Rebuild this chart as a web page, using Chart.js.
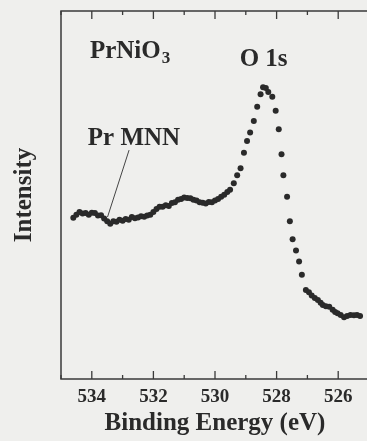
<!DOCTYPE html>
<html>
<head>
<meta charset="utf-8">
<script src="https://cdn.jsdelivr.net/npm/chart.js@4/dist/chart.umd.min.js"></script>
<style>
    html, body { margin: 0; padding: 0; background: #efefed; overflow: hidden; }
    #wrap { width: 376px; height: 441px; position: relative; }
</style>
</head>
<body>
<div id="wrap"><canvas id="xpsChart"></canvas></div>
<script>
// Binding energy (eV) and intensity (arb. units)
const energies = [
    534.6, 534.5, 534.4, 534.3, 534.2, 534.1, 534.0, 533.9, 533.8, 533.7,
    533.6, 533.5, 533.4, 533.3, 533.2, 533.1, 533.0, 532.9, 532.8, 532.7,
    532.6, 532.5, 532.4, 532.3, 532.2, 532.1, 532.0, 531.9, 531.8, 531.7,
    531.6, 531.5, 531.4, 531.3, 531.2, 531.1, 531.0, 530.9, 530.8, 530.7,
    530.6, 530.5, 530.4, 530.3, 530.2, 530.1, 530.0, 529.9, 529.8, 529.7,
    529.6,
    529.51, 529.39, 529.28, 529.17, 529.06, 528.96, 528.86, 528.74, 528.63, 528.52,
    528.44, 528.35, 528.27, 528.14, 528.03, 527.93, 527.84, 527.78, 527.66, 527.57,
    527.48, 527.37, 527.27, 527.18, 527.05, 526.95, 526.86, 526.76, 526.66, 526.57,
    526.50, 526.40, 526.29, 526.18, 526.10, 526.02, 525.92, 525.81, 525.71, 525.60,
    525.49, 525.39, 525.29
];
const intensities = [
    43.8, 44.6, 45.4, 45.0, 45.1, 44.6, 45.2, 45.1, 44.4, 44.5,
    43.6, 42.9, 42.2, 42.9, 42.7, 43.3, 43.0, 43.5, 43.3, 44.0,
    43.7, 43.9, 44.2, 44.1, 44.4, 44.6, 45.4, 46.2, 46.8, 46.8,
    47.2, 47.0, 47.8, 48.0, 48.7, 48.9, 49.3, 49.2, 49.1, 48.7,
    48.5, 48.0, 47.9, 47.7, 48.1, 48.0, 48.5, 48.9, 49.5, 50.1,
    50.8,
    51.4, 53.2, 55.4, 57.3, 61.5, 64.7, 67.0, 70.1, 74.0, 77.4,
    79.3, 79.1, 78.0, 76.7, 72.9, 67.9, 61.1, 55.4, 49.5, 42.9,
    38.0, 34.9, 31.9, 28.3, 24.2, 23.6, 22.7, 22.0, 21.5, 20.7,
    20.1, 19.8, 19.6, 18.8, 18.2, 17.9, 17.4, 16.8, 17.1, 17.4,
    17.3, 17.4, 17.1
];
const tickLabels = [534, 532, 530, 528, 526];

const ink = '#2a2a2a';
const serif = "'Liberation Serif', 'DejaVu Serif', serif";

document.addEventListener('DOMContentLoaded', function() {

    // ======================= //
    //   FRAME + INNER TICKS   //
    // ======================= //
    const framePlugin = {
        id: 'frame',
        afterDraw(chart) {
            const { ctx, chartArea: a } = chart;
            const xs = chart.scales.x;
            ctx.save();
            ctx.strokeStyle = '#3a3a3a';
            ctx.lineWidth = 1.5;
            ctx.beginPath();
            ctx.moveTo(a.right, a.top);
            ctx.lineTo(a.left, a.top);
            ctx.lineTo(a.left, a.bottom);
            ctx.lineTo(a.right, a.bottom);
            ctx.stroke();

            // ticks point inwards, long on labelled values
            ctx.lineWidth = 1.3;
            xs.ticks.forEach(t => {
                const px = xs.getPixelForValue(t.value);
                const len = tickLabels.includes(t.value) ? 8 : 4;
                ctx.beginPath();
                ctx.moveTo(px, a.bottom);
                ctx.lineTo(px, a.bottom - len);
                ctx.moveTo(px, a.top);
                ctx.lineTo(px, a.top + len);
                ctx.stroke();
            });
            ctx.restore();
        }
    };

    // ======================= //
    //      ANNOTATIONS        //
    // ======================= //
    const labelPlugin = {
        id: 'labels',
        afterDraw(chart) {
            const { ctx } = chart;
            const xs = chart.scales.x, ys = chart.scales.y;
            const X = v => xs.getPixelForValue(v);
            const Y = v => ys.getPixelForValue(v);
            ctx.save();
            ctx.fillStyle = ink;
            ctx.textBaseline = 'alphabetic';
            ctx.textAlign = 'left';

            ctx.font = 'bold 25px ' + serif;
            ctx.fillText('PrNiO', X(534.06), Y(87.2));
            const w = ctx.measureText('PrNiO').width;
            ctx.font = 'bold 17px ' + serif;
            ctx.fillText('3', X(534.06) + w + 1, Y(87.2) + 5);

            ctx.font = 'bold 25px ' + serif;
            ctx.fillText('O 1s', X(529.2), Y(85.1));
            ctx.fillText('Pr MNN', X(534.13), Y(63.6));

            // leader line to the Pr MNN feature
            ctx.strokeStyle = '#444';
            ctx.lineWidth = 1;
            ctx.beginPath();
            ctx.moveTo(X(532.79), Y(62.2));
            ctx.lineTo(X(533.49), Y(44.0));
            ctx.stroke();
            ctx.restore();
        }
    };

    // ======================= //
    //       XPS CHART         //
    // ======================= //
    const ctx = document.getElementById('xpsChart').getContext('2d');
    const xpsChart = new Chart(ctx, {
        type: 'scatter',
        data: {
            datasets: [{
                label: 'O 1s',
                data: energies.map((e, i) => ({ x: e, y: intensities[i] })),
                backgroundColor: ink,
                borderColor: ink,
                pointRadius: 3,
                pointBorderWidth: 0,
                showLine: false
            }]
        },
        options: {
            responsive: true,
            maintainAspectRatio: false,
            animation: false,
            layout: { padding: { top: 11, right: 1, left: 0, bottom: 0 } },
            plugins: {
                legend: { display: false },
                tooltip: { enabled: false }
            },
            scales: {
                x: {
                    type: 'linear',
                    reverse: true,
                    min: 525,
                    max: 535,
                    grid: { display: false, drawTicks: false },
                    border: { display: false },
                    ticks: {
                        stepSize: 1,
                        autoSkip: false,
                        maxRotation: 0,
                        padding: 7,
                        color: ink,
                        font: { family: serif, size: 19, weight: 'bold' },
                        callback: v => tickLabels.includes(v) ? String(v) : ''
                    },
                    title: {
                        display: true,
                        text: 'Binding Energy (eV)',
                        color: ink,
                        font: { family: serif, size: 25, weight: 'bold' },
                        padding: { top: 0, bottom: 2 }
                    },
                    afterFit: s => { s.height = 62; }
                },
                y: {
                    min: 0,
                    max: 100,
                    grid: { display: false, drawTicks: false },
                    border: { display: false },
                    ticks: { display: false },
                    title: {
                        display: true,
                        text: 'Intensity',
                        color: ink,
                        font: { family: serif, size: 25, weight: 'bold' },
                        padding: { top: 10, bottom: 0 }
                    },
                    afterFit: s => { s.width = 61; }
                }
            }
        },
        plugins: [framePlugin, labelPlugin]
    });
});
</script>
</body>
</html>
